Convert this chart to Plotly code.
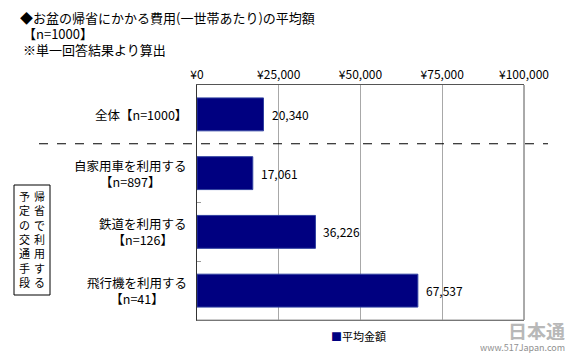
import plotly.graph_objects as go

categories = ["全体【n=1000】", "自家用車を利用する<br>【n=897】", "鉄道を利用する<br>【n=126】", "飛行機を利用する<br>【n=41】"]
values = [20340, 17061, 36226, 67537]
tick_vals = [0, 25000, 50000, 75000, 100000]
tick_text = ["¥0", "¥25,000", "¥50,000", "¥75,000", "¥100,000"]
series_name = "平均金額"

FONT = "Noto Sans CJK JP"
NAVY = "#000080"

W, H = 567, 354
ML, MR, MT, MB = 197, 43, 85, 34
PW = W - ML - MR
PH = H - MT - MB

def px2paper(x):
    return (x - ML) / PW

def ypaper(y):
    return 1 - (y - MT) / PH

ids = list(range(len(categories)))

fig = go.Figure()
fig.add_trace(go.Bar(
    x=values, y=ids, orientation="h",
    marker=dict(color=NAVY, line=dict(color="#3040a0", width=1)),
    width=0.56, name=series_name, showlegend=False,
))

# data labels
for i, v in zip(ids, values):
    fig.add_annotation(text=f"{v:,}", x=v, y=i, xref="x", yref="y", xanchor="left", yanchor="middle",
                       xshift=6, showarrow=False, font=dict(family=FONT, size=12, color="#000"))

fig.update_layout(
    width=W, height=H,
    margin=dict(l=ML, r=MR, t=MT, b=MB),
    paper_bgcolor="white", plot_bgcolor="white",
    font=dict(family=FONT, size=12, color="#000"),
    xaxis=dict(
        side="top", range=[0, 100000], tickvals=tick_vals, ticktext=tick_text,
        showgrid=True, gridcolor="#a8a8a8", gridwidth=1,
        showline=True, linecolor="#555", linewidth=1, mirror=True,
        ticks="", zeroline=False, tickfont=dict(family=FONT, size=12),
    ),
    yaxis=dict(
        range=[len(categories) - 0.5, -0.5], tickvals=[1.5, 2.5],
        showticklabels=False, ticks="inside", ticklen=4, tickcolor="#999",
        showgrid=False, showline=True, linecolor="#333", linewidth=1, mirror=False,
        zeroline=False,
    ),
)

# right border and bottom border
fig.add_shape(type="line", xref="paper", yref="paper", x0=1, x1=1, y0=0, y1=1,
              line=dict(color="#555", width=1))
fig.add_shape(type="line", xref="paper", yref="paper", x0=0, x1=1, y0=0, y1=0,
              line=dict(color="#999", width=1))

# dashed separator
fig.add_shape(type="line", xref="paper", yref="y", x0=px2paper(39), x1=px2paper(548),
              y0=0.5, y1=0.5, line=dict(color="#000", width=1, dash="dash"))

# category labels
for i, c in enumerate(categories):
    fig.add_annotation(text=c, xref="paper", yref="y", x=px2paper(189), y=i,
                       xanchor="right", yanchor="middle", align="center",
                       showarrow=False, font=dict(family=FONT, size=12.5, color="#000"))

# titles
titles = [("◆お盆の帰省にかかる費用(一世帯あたり)の平均額", 18, 17),
          ("【n=1000】", 21, 33),
          ("※単一回答結果より算出", 21, 49)]
for t, x, y in titles:
    fig.add_annotation(text=t, xref="paper", yref="paper", x=px2paper(x), y=ypaper(y),
                       xanchor="left", yanchor="middle", showarrow=False, height=16,
                       font=dict(family=FONT, size=13, color="#000"))

# vertical boxed label
fig.add_shape(type="rect", xref="paper", yref="paper", x0=px2paper(14), x1=px2paper(50),
              y0=ypaper(295), y1=ypaper(185), line=dict(color="#000", width=1), fillcolor="white")
col_r = "帰省で利用する"
col_l = "予定の交通手段"
for col, x in ((col_r, 39), (col_l, 24)):
    fig.add_annotation(text="<br>".join(col), xref="paper", yref="paper", x=px2paper(x), y=ypaper(239),
                       xanchor="center", yanchor="middle", showarrow=False, align="center",
                       borderpad=0, font=dict(family=FONT, size=11, color="#000"))

# legend
fig.add_annotation(text=f"<span style='color:{NAVY}'>■</span>{series_name}", xref="paper", yref="paper",
                   x=px2paper(329), y=ypaper(336), xanchor="left", yanchor="middle", showarrow=False,
                   font=dict(family=FONT, size=11, color="#000"))

# watermark
fig.add_annotation(text="<b>日本通</b>", xref="paper", yref="paper", x=px2paper(566), y=ypaper(330),
                   xanchor="right", yanchor="middle", showarrow=False, height=20, borderpad=0,
                   font=dict(family=FONT, size=19, color="#b8b8b8"))
fig.add_annotation(text="www.517Japan.com", xref="paper", yref="paper", x=px2paper(566), y=ypaper(347),
                   xanchor="right", yanchor="middle", showarrow=False, height=11, borderpad=0,
                   font=dict(family=FONT, size=9, color="#909090"))

fig.write_html("out.html")
